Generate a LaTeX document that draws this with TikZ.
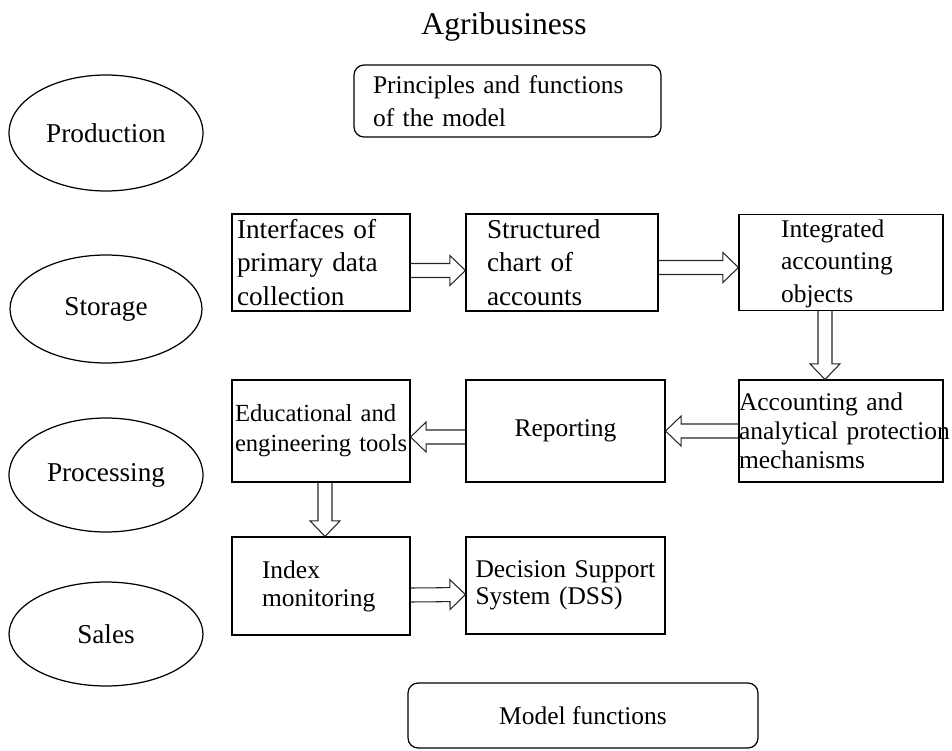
\documentclass[tikz,border=0pt]{standalone}
\usepackage{fontspec}
\setmainfont{Liberation Serif}
\usetikzlibrary{calc,shapes.geometric}

\begin{document}
\begin{tikzpicture}[
    x=0.02cm, y=-0.02cm,
    line width=.7pt,
    every node/.style={font=\fontsize{14.5}{17.5}\selectfont},
    big/.style={font=\fontsize{15.5}{19}\selectfont},
    stage/.style={draw, ellipse, inner sep=0pt, font=\fontsize{15.5}{19}\selectfont},
    block/.style={draw, rectangle, inner sep=0pt, align=left},
    frame/.style={draw, rectangle, rounded corners=0.2cm, inner sep=0pt, align=left},
    hollow/.style={draw=black!85, line width=.6pt, line join=miter,
        % block arrow outline, open at the tail
        to path={
        let \p1=($(\tikztotarget)!\headl!(\tikztostart)$) in
        ($(\tikztostart)!\shaftw!90:(\tikztotarget)$)
        -- ($(\p1)!\shaftw!90:(\tikztotarget)$)
        -- ($(\p1)!\headw!90:(\tikztotarget)$)
        -- (\tikztotarget)
        -- ($(\p1)!\headw!-90:(\tikztotarget)$)
        -- ($(\p1)!\shaftw!-90:(\tikztotarget)$)
        -- ($(\tikztostart)!\shaftw!-90:(\tikztotarget)$)}},
    ]

    \def\shaftw{0.14cm}
    \def\headw{0.3cm}
    \def\headl{0.31cm}

    \useasboundingbox (0,0) rectangle (952,750);

    % title
    \node[font=\fontsize{18}{22}\selectfont] (title) at (504,27) {Agribusiness};

    % principles
    \node[frame, font=\fontsize{14.5}{18.5}\selectfont, minimum width=6.14cm, minimum height=1.44cm, text width=5.38cm]
        (principles) at (507.5,101) {Principles and functions\\of the model\\[-0.2cm]};

    % stages
    \node[stage, minimum width=3.88cm, minimum height=2.32cm] (production) at (106,133) {Production};
    \node[stage, minimum width=3.84cm, minimum height=2.16cm] (storage) at (106,309) {Storage};
    \node[stage, minimum width=3.88cm, minimum height=2.28cm] (processing) at (106,475) {Processing};
    \node[stage, minimum width=3.88cm, minimum height=2.08cm] (sales) at (106,634) {Sales};

    % first row
    \node[block, big, minimum width=3.56cm, minimum height=1.94cm, text width=3.36cm]
        (interfaces) at (321,262.5) {Interfaces of\\primary data\\collection};
    \node[block, big, minimum width=3.84cm, minimum height=1.94cm, text width=3.0cm]
        (chart) at (562,262.5) {Structured\\chart of\\accounts};
    \node[block, font=\fontsize{14.5}{18.5}\selectfont, minimum width=4.08cm, minimum height=1.92cm, text width=2.4cm]
        (objects) at (841,262.5) {\\[-0.25cm]Integrated\\accounting\\objects};

    % second row
    \node[block, font=\fontsize{14.5}{16.5}\selectfont, minimum width=4.08cm, minimum height=2.04cm, text width=4.08cm]
        (protection) at (841,431) {Accounting and\\\mbox{analytical protection}\\mechanisms};
    \node[block, align=center, minimum width=3.98cm, minimum height=2.04cm]
        (reporting) at (565.5,431) {Reporting};
    \node[block, font=\fontsize{14}{17}\selectfont, minimum width=3.56cm, minimum height=2.04cm, text width=3.44cm]
        (tools) at (321,431) {Educational and\\\mbox{engineering tools}};

    % third row
    \node[block, font=\fontsize{14.5}{16}\selectfont, minimum width=3.56cm, minimum height=1.96cm, text width=2.36cm]
        (index) at (321,586) {Index\\monitoring};
    \node[block, font=\fontsize{14.5}{15.5}\selectfont, minimum width=3.98cm, minimum height=1.94cm, text width=3.6cm]
        (dss) at (565.5,585.5) {\mbox{Decision Support}\\System (DSS)\\[-0.55cm]};

    % model functions
    \node[frame, align=center, minimum width=7cm, minimum height=1.3cm]
        (functions) at (583,715.5) {Model functions};

    % arrows
    \draw[hollow] ([yshift=-0.16cm]interfaces.east) to ([yshift=-0.16cm]chart.west);
    \draw[hollow] ([yshift=-0.1cm]chart.east) to ([yshift=-0.1cm]objects.west);
    \draw[hollow] ([xshift=-0.32cm]objects.south) to ([xshift=-0.32cm]protection.north);
    \draw[hollow] (protection.west) to (reporting.east);
    \draw[hollow] ([yshift=-0.12cm]reporting.west) to ([yshift=-0.12cm]tools.east);
    \draw[hollow] ([xshift=0.08cm]tools.south) to ([xshift=0.08cm]index.north);
    \draw[hollow] ([yshift=-0.18cm]index.east) to ([yshift=-0.18cm]dss.west);

\end{tikzpicture}
\end{document}
